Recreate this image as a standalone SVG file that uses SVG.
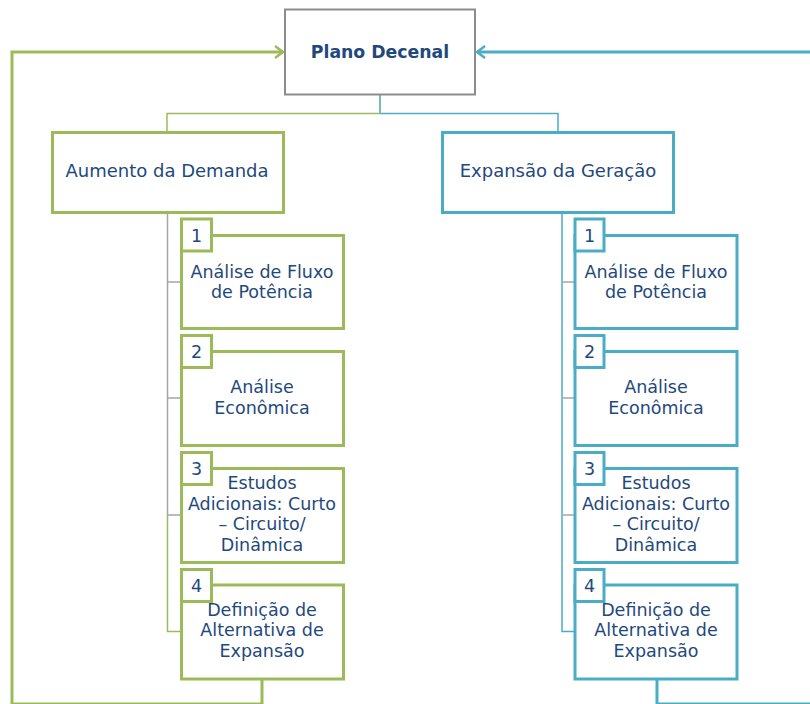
<svg xmlns="http://www.w3.org/2000/svg" width="810" height="704" viewBox="0 0 810 704">
  <style>
    .txt { font-family: "DejaVu Sans", "Liberation Sans", sans-serif; fill: #1f497d; text-anchor: middle; }
    .title { font-size: 17.3px; font-weight: bold; }
    .head { font-size: 18px; }
    .item { font-size: 17.5px; }
    .num { font-size: 17.5px; }
    .box { fill: #ffffff; stroke-width: 3; }
    .g { stroke: #9bbb59; }
    .t { stroke: #4bacc6; }
    .root { fill: #ffffff; stroke: #8c8c8c; stroke-width: 2; }
    .ln { fill: none; }
  </style>
  <defs>
    <marker id="arrG" viewBox="0 0 10 14" refX="9" refY="7" markerWidth="10" markerHeight="14" markerUnits="userSpaceOnUse" orient="auto">
      <path d="M1,1 L9,7 L1,13" fill="none" stroke="#9bbb59" stroke-width="2.5"/>
    </marker>
    <marker id="arrT" viewBox="0 0 10 14" refX="9" refY="7" markerWidth="10" markerHeight="14" markerUnits="userSpaceOnUse" orient="auto">
      <path d="M1,1 L9,7 L1,13" fill="none" stroke="#4bacc6" stroke-width="2.5"/>
    </marker>
  </defs>

  <!-- connectors -->
  <g id="connectors" class="ln">
    <!-- root to branches -->
    <path d="M167,132 V113.5 H380" stroke="#9bbb59" stroke-width="1.5"/>
    <path d="M558,132 V113.5 H380" stroke="#4bacc6" stroke-width="1.5"/>
    <path d="M380,95 V113.5" stroke="#7fb8b0" stroke-width="2"/>
    <!-- left branch to its steps -->
    <path d="M167.5,213 V515" stroke="#a5a5a5" stroke-width="1.5"/>
    <path d="M167.5,282 H181 M167.5,398 H181 M167.5,515 H181" stroke="#a5a5a5" stroke-width="1.5"/>
    <path d="M167.5,515 V631.5 H181" stroke="#9bbb59" stroke-width="1.5"/>
    <!-- right branch to its steps -->
    <path d="M562,213 V631.5 H575" stroke="#4bacc6" stroke-width="1.5"/>
    <path d="M562,282 H575 M562,398 H575 M562,515 H575" stroke="#a5a5a5" stroke-width="1.5"/>
    <!-- feedback loops into the plan -->
    <path d="M262,679 V704 M262,704 H12 V52 H283" stroke="#9bbb59" stroke-width="3" marker-end="url(#arrG)"/>
    <path d="M657,679 V704 H812" stroke="#4bacc6" stroke-width="3"/>
    <path d="M812,52 H477" stroke="#4bacc6" stroke-width="3" marker-end="url(#arrT)"/>
  </g>

  <g id="plano-decenal">
    <rect class="root" x="285" y="9.5" width="190" height="85"/>
    <text class="txt title" x="380" y="58">Plano Decenal</text>
  </g>

  <g id="aumento-demanda">
    <rect class="box g" x="52.5" y="132.5" width="231" height="80"/>
    <text class="txt head" x="167" y="177">Aumento da Demanda</text>
  </g>

  <g id="expansao-geracao">
    <rect class="box t" x="442.5" y="132.5" width="231" height="80"/>
    <text class="txt head" x="558" y="177">Expansão da Geração</text>
  </g>

  <!-- left column steps -->
  <g id="a1">
    <rect class="box g" x="181.5" y="235.5" width="162" height="93"/>
    <rect class="box g" x="181.5" y="219" width="30" height="32"/>
    <text class="txt num" x="196.5" y="242">1</text>
    <text class="txt item" x="262" y="278">Análise de Fluxo</text>
    <text class="txt item" x="262" y="298">de Potência</text>
  </g>
  <g id="a2">
    <rect class="box g" x="181.5" y="351.5" width="162" height="94"/>
    <rect class="box g" x="181.5" y="335.5" width="30" height="32"/>
    <text class="txt num" x="196.5" y="358">2</text>
    <text class="txt item" x="262" y="393">Análise</text>
    <text class="txt item" x="262" y="414">Econômica</text>
  </g>
  <g id="a3">
    <rect class="box g" x="181.5" y="468.5" width="162" height="94"/>
    <rect class="box g" x="181.5" y="452.5" width="30" height="32"/>
    <text class="txt num" x="196.5" y="475">3</text>
    <text class="txt item" x="262" y="489">Estudos</text>
    <text class="txt item" x="262" y="510">Adicionais: Curto</text>
    <text class="txt item" x="262" y="530">– Circuito/</text>
    <text class="txt item" x="262" y="551">Dinâmica</text>
  </g>
  <g id="a4">
    <rect class="box g" x="181.5" y="585" width="162" height="94"/>
    <rect class="box g" x="181.5" y="569.5" width="30" height="32"/>
    <text class="txt num" x="196.5" y="592">4</text>
    <text class="txt item" x="262" y="616">Definição de</text>
    <text class="txt item" x="262" y="636">Alternativa de</text>
    <text class="txt item" x="262" y="657">Expansão</text>
  </g>

  <!-- right column steps -->
  <g id="e1">
    <rect class="box t" x="575" y="235.5" width="162" height="93"/>
    <rect class="box t" x="575" y="219" width="29" height="32"/>
    <text class="txt num" x="589.5" y="242">1</text>
    <text class="txt item" x="656" y="278">Análise de Fluxo</text>
    <text class="txt item" x="656" y="298">de Potência</text>
  </g>
  <g id="e2">
    <rect class="box t" x="575" y="351.5" width="162" height="94"/>
    <rect class="box t" x="575" y="335.5" width="29" height="32"/>
    <text class="txt num" x="589.5" y="358">2</text>
    <text class="txt item" x="656" y="393">Análise</text>
    <text class="txt item" x="656" y="414">Econômica</text>
  </g>
  <g id="e3">
    <rect class="box t" x="575" y="468.5" width="162" height="94"/>
    <rect class="box t" x="575" y="452.5" width="29" height="32"/>
    <text class="txt num" x="589.5" y="475">3</text>
    <text class="txt item" x="656" y="489">Estudos</text>
    <text class="txt item" x="656" y="510">Adicionais: Curto</text>
    <text class="txt item" x="656" y="530">– Circuito/</text>
    <text class="txt item" x="656" y="551">Dinâmica</text>
  </g>
  <g id="e4">
    <rect class="box t" x="575" y="585" width="162" height="94"/>
    <rect class="box t" x="575" y="569.5" width="29" height="32"/>
    <text class="txt num" x="589.5" y="592">4</text>
    <text class="txt item" x="656" y="616">Definição de</text>
    <text class="txt item" x="656" y="636">Alternativa de</text>
    <text class="txt item" x="656" y="657">Expansão</text>
  </g>
</svg>
